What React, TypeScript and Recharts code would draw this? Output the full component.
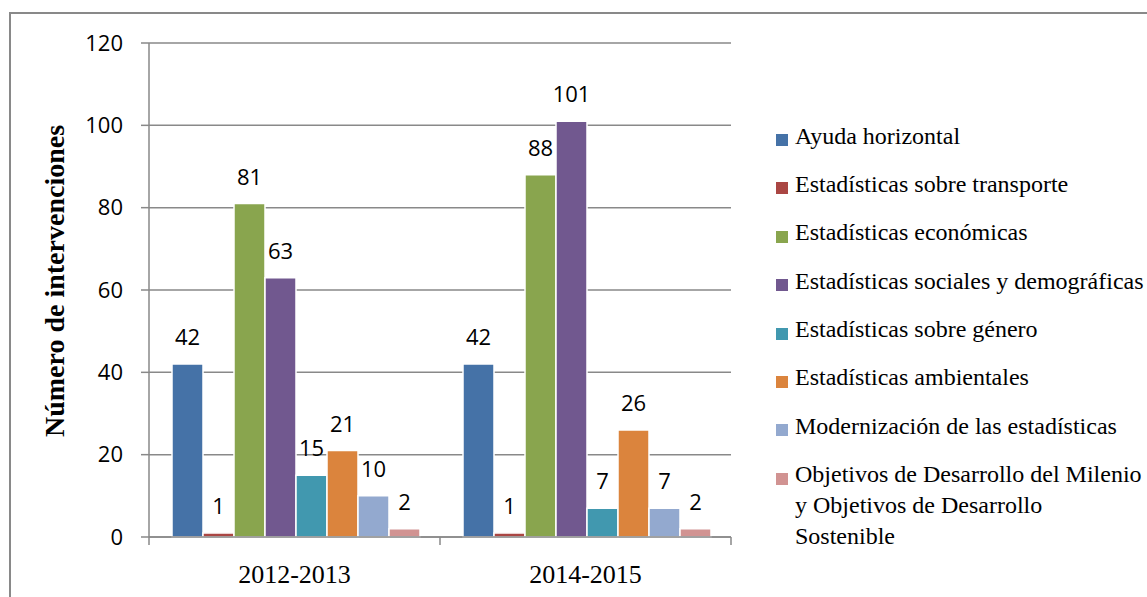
import React from 'react';
import { BarChart, Bar, XAxis, YAxis, CartesianGrid, LabelList, Legend, Label } from 'recharts';

const periods = ['2012-2013', '2014-2015'];
const seriesNames = [
  'Ayuda horizontal',
  'Estadísticas sobre transporte',
  'Estadísticas económicas',
  'Estadísticas sociales y demográficas',
  'Estadísticas sobre género',
  'Estadísticas ambientales',
  'Modernización de las estadísticas',
  'Objetivos de Desarrollo del Milenio y Objetivos de Desarrollo Sostenible',
];
const seriesColors = ['#4572A7', '#AA4643', '#89A54E', '#71588F', '#4198AF', '#DB843D', '#93A9CF', '#D19392'];
const ayudaHorizontal = [42, 42];
const transporte = [1, 1];
const economicas = [81, 88];
const sociales = [63, 101];
const genero = [15, 7];
const ambientales = [21, 26];
const modernizacion = [10, 7];
const odm = [2, 2];
const yTicks = [0, 20, 40, 60, 80, 100, 120];

const seriesValues = [ayudaHorizontal, transporte, economicas, sociales, genero, ambientales, modernizacion, odm];

const data = periods.map((p, i) => {
  const row: any = { period: p };
  seriesValues.forEach((vals, j) => {
    row['s' + j] = vals[i];
  });
  return row;
});

const gray = '#898989';
const sans = '"Open Sans", "Liberation Sans", sans-serif';
const serif = '"Liberation Serif", "Times New Roman", serif';
const catMargin = 28;

// category label plus the little tick marks on the group boundaries (Excel style)
const CategoryTick = (props: any) => {
  const { x, y, payload, index, visibleTicksCount } = props;
  const half = payload.offset || 0;
  const axisY = y - catMargin;
  return (
    <g>
      <line x1={x - half} x2={x - half} y1={axisY} y2={axisY + 8} stroke={gray} strokeWidth={1.5} />
      {index === visibleTicksCount - 1 && (
        <line x1={x + half} x2={x + half} y1={axisY} y2={axisY + 8} stroke={gray} strokeWidth={1.5} />
      )}
      <text x={x} y={y} dy="0.71em" textAnchor="middle" fontFamily={serif} fontSize={26} fill="#000">
        {payload.value}
      </text>
    </g>
  );
};

// keep the legend in series order (recharts sorts by name otherwise)
const renderLegend = (props: any) => {
  const items = [...props.payload].sort(
    (a: any, b: any) => seriesNames.indexOf(a.value) - seriesNames.indexOf(b.value)
  );
  return (
    <div style={{ fontFamily: serif, fontSize: 24, color: '#000' }}>
      {items.map((e: any) => (
        <div key={e.value} style={{ display: 'flex', alignItems: 'flex-start', lineHeight: '31px', marginBottom: 17.4 }}>
          <span style={{ width: 12, height: 12, background: e.color, marginTop: 13.6, marginRight: 7, flexShrink: 0 }} />
          <span style={{ width: 350 }}>{e.value}</span>
        </div>
      ))}
    </div>
  );
};

export default function App() {
  return (
    <div style={{ position: 'absolute', left: 0, top: 0, width: 1147, height: 597, overflow: 'hidden', background: '#fff' }}>
      <div
        style={{
          position: 'absolute',
          left: 9,
          top: 12,
          width: 1200,
          height: 700,
          borderTop: `2px solid ${gray}`,
          borderLeft: `2px solid ${gray}`,
        }}
      />
      <BarChart
        width={1147}
        height={597}
        data={data}
        margin={{ top: 43, right: 416, bottom: 0, left: 0 }}
        barCategoryGap={23}
        barGap={0}
      >
        <CartesianGrid vertical={false} stroke={gray} strokeWidth={1.5} />
        <XAxis
          dataKey="period"
          height={60}
          tickLine={false}
          axisLine={{ stroke: gray, strokeWidth: 1.5 }}
          tickSize={0}
          tickMargin={catMargin}
          tick={<CategoryTick />}
        />
        <YAxis
          width={149}
          domain={[0, 120]}
          ticks={yTicks}
          tickSize={8}
          tickMargin={18}
          axisLine={{ stroke: gray, strokeWidth: 1.5 }}
          tickLine={{ stroke: gray, strokeWidth: 1.5 }}
          tick={{ fontFamily: sans, fontSize: 22, fill: '#000' }}
        >
          <Label
            value="Número de intervenciones"
            angle={-90}
            position="center"
            dx={-20}
            dy={-9}
            style={{ fontFamily: serif, fontWeight: 'bold', fontSize: 28, fill: '#000' }}
          />
        </YAxis>
        <Legend
          layout="vertical"
          align="center"
          verticalAlign="middle"
          content={renderLegend}
          wrapperStyle={{ left: 776, top: 120.5, width: 371 }}
        />
        {seriesNames.map((name, j) => (
          <Bar
            key={name}
            dataKey={'s' + j}
            name={name}
            fill={seriesColors[j]}
            stroke="#fff"
            strokeWidth={1.5}
            isAnimationActive={false}
          >
            <LabelList dataKey={'s' + j} position="top" offset={19} style={{ fontFamily: sans, fontSize: 22, fill: '#000' }} />
          </Bar>
        ))}
      </BarChart>
    </div>
  );
}
